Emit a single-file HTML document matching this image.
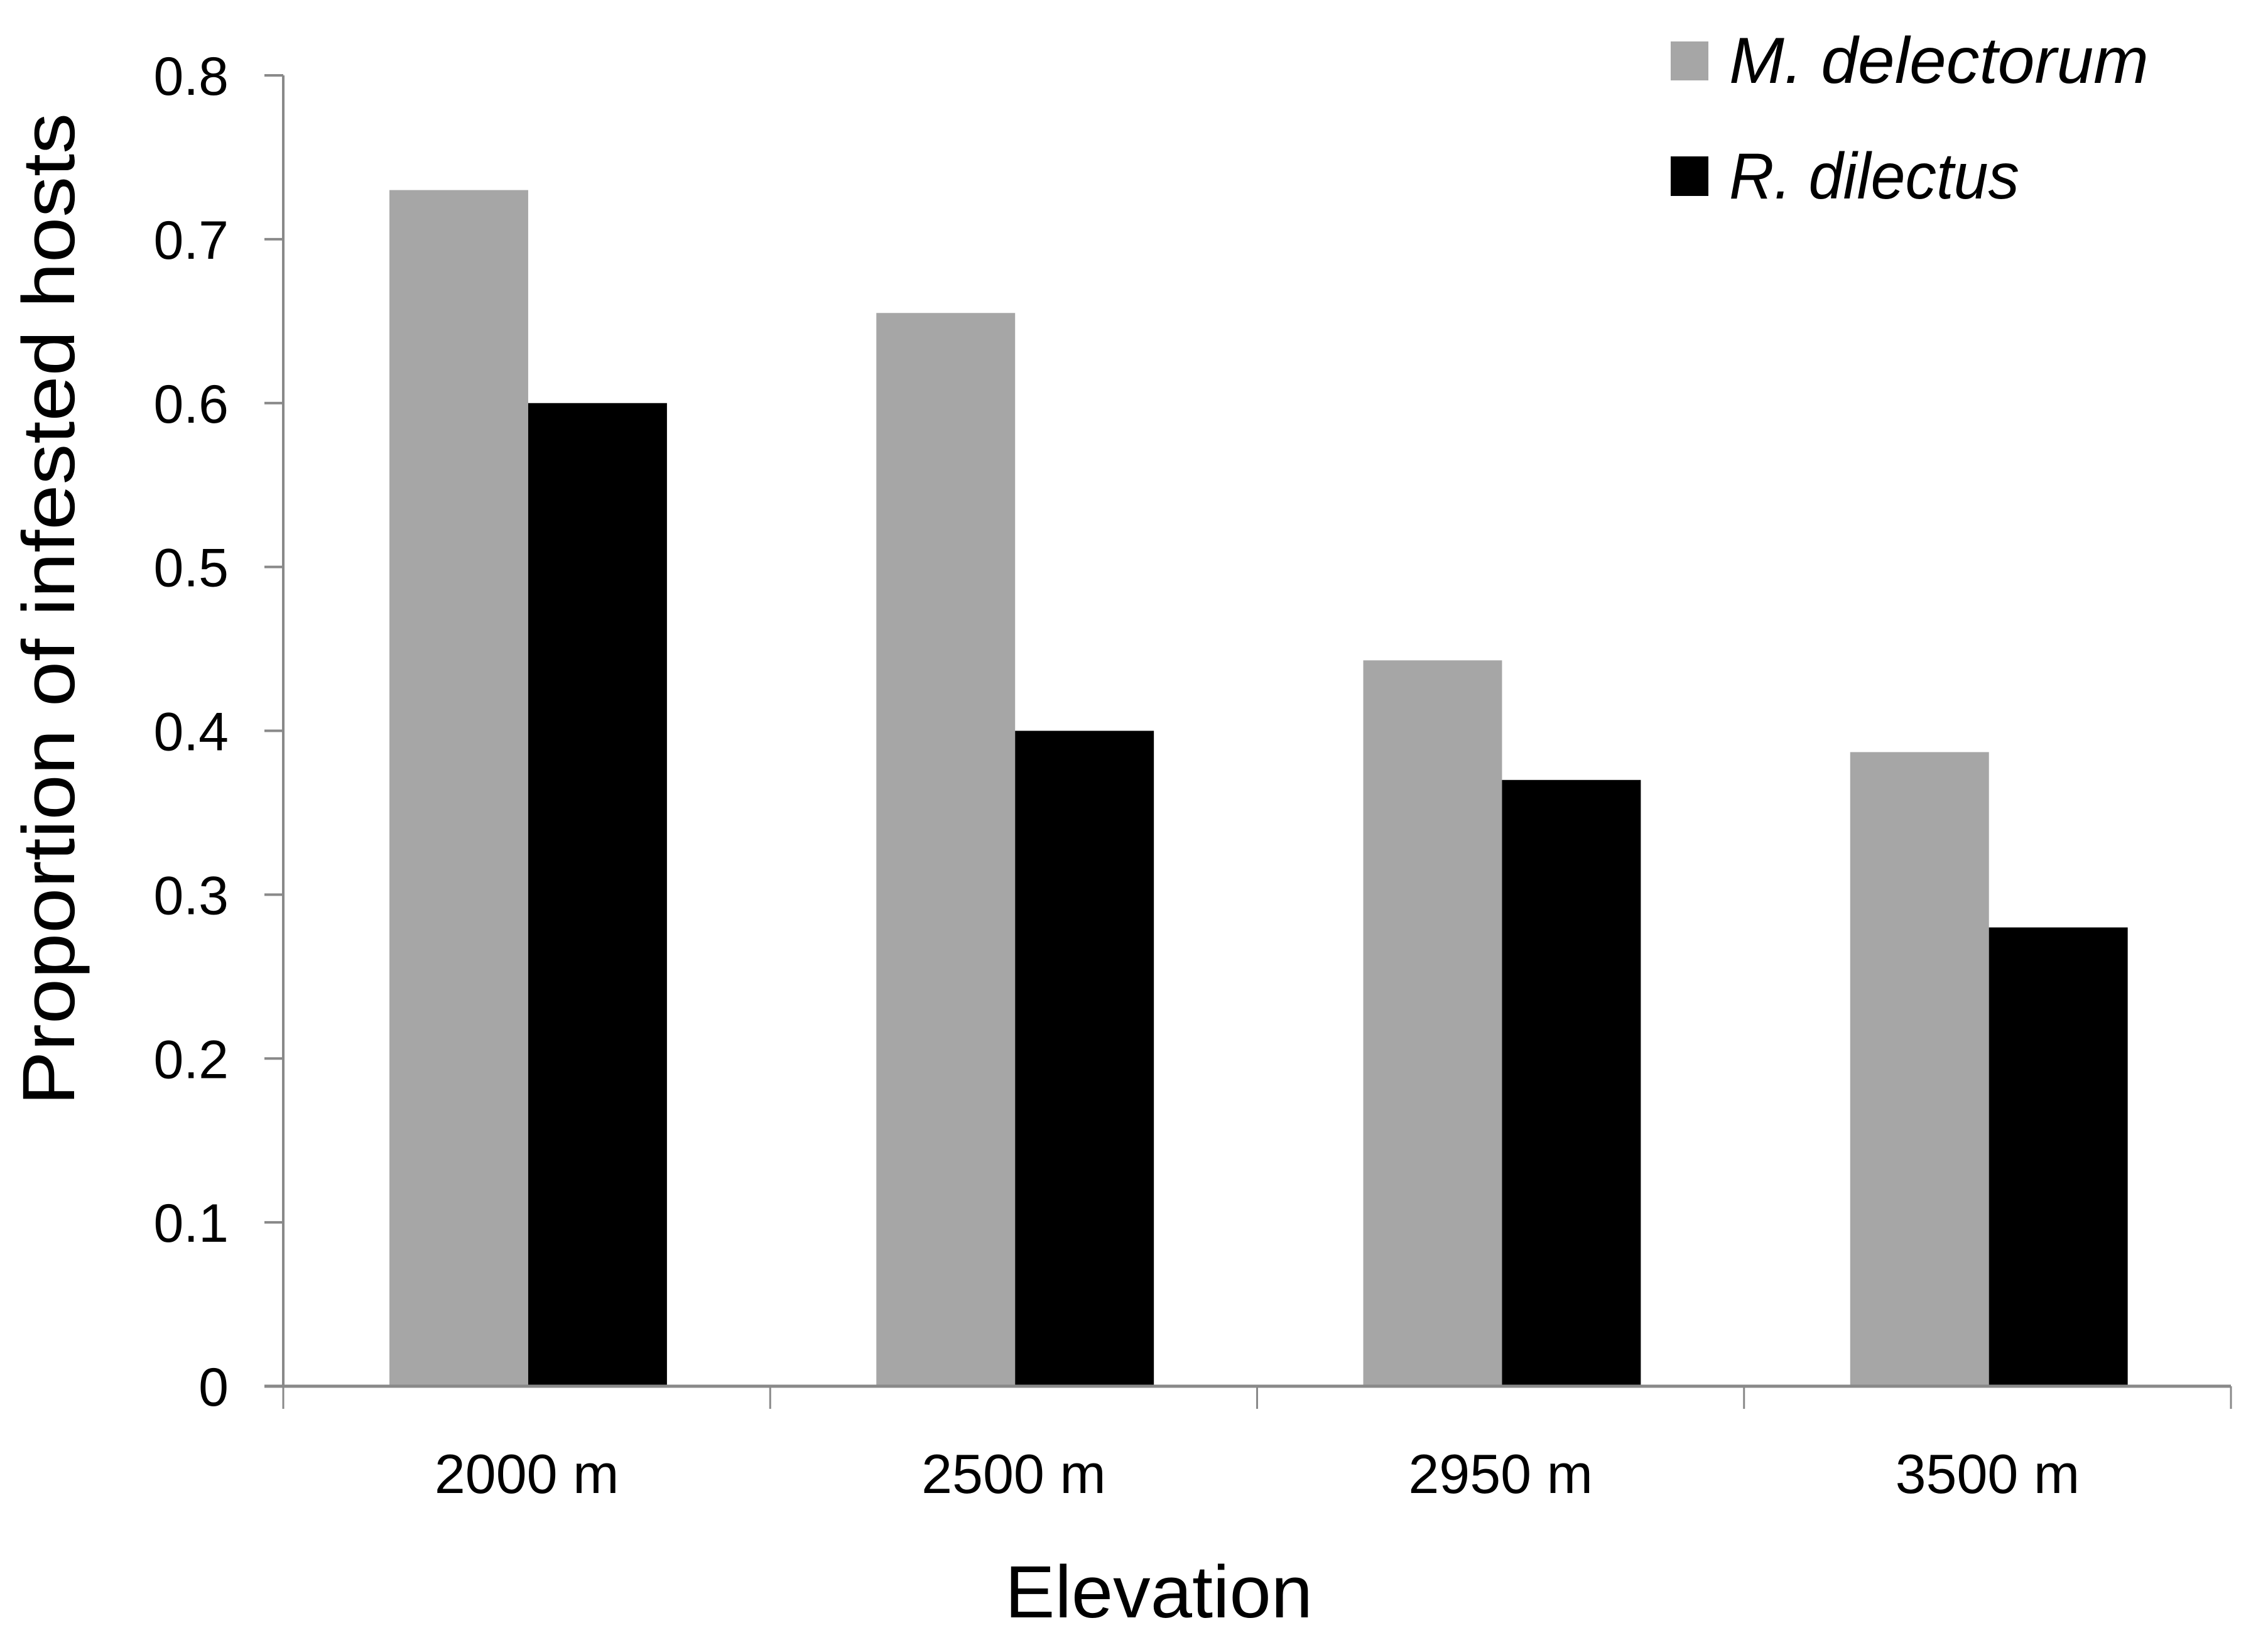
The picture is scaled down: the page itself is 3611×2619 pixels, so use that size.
<!DOCTYPE html>
<html><head><meta charset="utf-8"><style>
html,body{margin:0;padding:0;background:#fff;}
svg{display:block;}
text{font-family:"Liberation Sans",sans-serif;fill:#000;}
</style></head><body>
<svg id="chart" width="3611" height="2619" viewBox="0 0 3611 2619">
<g id="grid"></g>
<g id="bars"></g>
<g id="axes"></g>
<text x="78" y="970" font-size="118" text-anchor="middle" textLength="1580" lengthAdjust="spacingAndGlyphs" transform="rotate(-90 78 970)" dy="40">Proportion of infested hosts</text>
<text x="1845" y="2575" font-size="118" text-anchor="middle" textLength="490" lengthAdjust="spacingAndGlyphs">Elevation</text>
<g>
<rect x="2660" y="66" width="60" height="62" fill="#a6a6a6"></rect>
<text x="2753" y="132" font-size="104" font-style="italic" textLength="668" lengthAdjust="spacingAndGlyphs">M. delectorum</text>
<rect x="2660" y="249" width="60" height="63" fill="#000"></rect>
<text x="2753" y="316" font-size="104" font-style="italic" textLength="462" lengthAdjust="spacingAndGlyphs">R. dilectus</text>
</g>
</svg>
<script>
const categories = ["2000 m","2500 m","2950 m","3500 m"];
const mDelectorum = [0.73,0.655,0.443,0.387];
const rDilectus = [0.60,0.40,0.37,0.28];
const yTicks = [0,0.1,0.2,0.3,0.4,0.5,0.6,0.7,0.8];
const yTickLabels = ["0","0.1","0.2","0.3","0.4","0.5","0.6","0.7","0.8"];

const NS="http://www.w3.org/2000/svg";
const x0=451, x1=3552, yTop=120, yBot=2207, yMax=0.8;
const catW=(x1-x0)/categories.length;
function yScale(v){return yBot-(v/yMax)*(yBot-yTop);}
function xCat(i){return x0+i*catW;}
function mk(tag,attrs,parent){const e=document.createElementNS(NS,tag);for(const k in attrs)e.setAttribute(k,attrs[k]);parent.appendChild(e);return e;}
const bars=document.getElementById('bars'), axes=document.getElementById('axes');
const bw=catW*0.285, off=catW*0.218;
categories.forEach((c,i)=>{
  const xs=xCat(i)+off;
  const r1=mk('rect',{x:xs,y:yScale(mDelectorum[i]),width:bw,height:yBot-yScale(mDelectorum[i]),fill:'#a6a6a6'},bars);
  
  
  const r2=mk('rect',{x:xs+bw,y:yScale(rDilectus[i]),width:bw,height:yBot-yScale(rDilectus[i]),fill:'#000'},bars);
  
  
  const t=mk('text',{x:xCat(i)+catW/2,y:2377,'font-size':88,'text-anchor':'middle'},axes);
  t.textContent=c;
  
  
});
for(let i=0;i<=categories.length;i++){
  const l=mk('line',{x1:xCat(i),x2:xCat(i),y1:yBot,y2:2243,stroke:'#898989','stroke-width':3},axes);
  
  
}
yTicks.forEach((v,i)=>{
  const y=yScale(v);
  const l=mk('line',{x1:421,x2:x0,y1:y,y2:y,stroke:'#898989','stroke-width':4},axes);
  
  
  const t=mk('text',{x:364,y:y+31,'font-size':86,'text-anchor':'end'},axes);
  t.textContent=yTickLabels[i];
  
  
});
const ya=mk('line',{x1:x0,x2:x0,y1:yTop,y2:yBot,stroke:'#898989','stroke-width':4},axes);


const xa=mk('line',{x1:421,x2:x1,y1:yBot,y2:yBot,stroke:'#898989','stroke-width':5},axes);


</script>
</body></html>
